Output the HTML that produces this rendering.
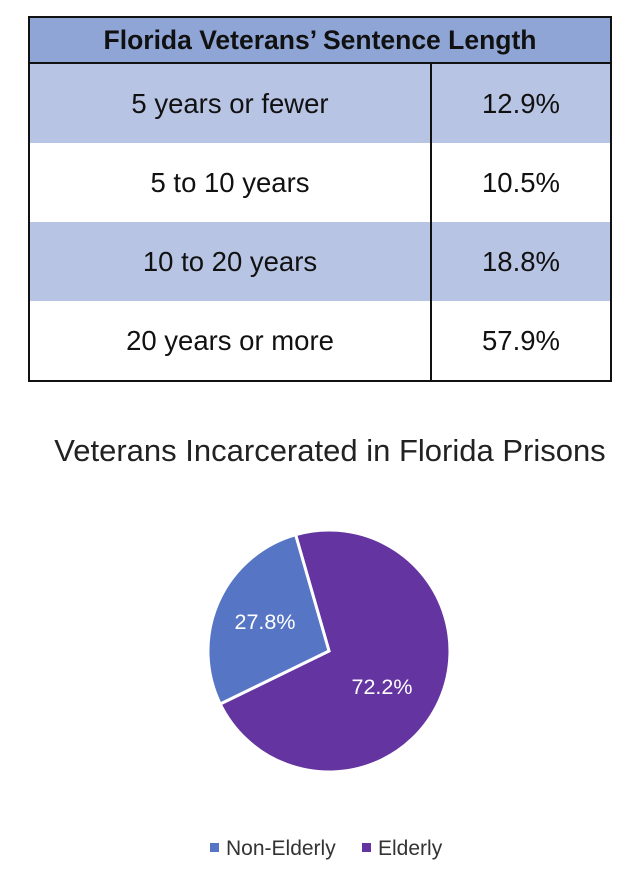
<!DOCTYPE html>
<html><head><meta charset="utf-8"><style>
body{margin:0;width:640px;height:878px;background:#fff;font-family:"Liberation Sans",sans-serif;position:relative;overflow:hidden}
table{position:absolute;left:28px;top:16px;width:584px;border-collapse:collapse;border:2px solid #111}
td{text-align:center;font-size:27.5px;color:#111;padding:0}
.h{background:#8fa5d6;font-weight:bold;height:44px;font-size:26.5px;border-bottom:2px solid #111}
.b{background:#b8c4e4}
.r td{height:79px}
.c1{width:400px;border-right:2px solid #111}
.t{position:absolute;left:0;width:660px;top:433px;text-align:center;font-size:31px;color:#222}
.lg{position:absolute;top:837px;font-size:21px;color:#333}
.sq{display:inline-block;width:9px;height:9px;margin-right:7px;vertical-align:3px}
</style></head><body>
<table>
<tr><td colspan="2" class="h">Florida Veterans’ Sentence Length</td></tr>
<tr class="r b"><td class="c1">5 years or fewer</td><td>12.9%</td></tr>
<tr class="r"><td class="c1">5 to 10 years</td><td>10.5%</td></tr>
<tr class="r b"><td class="c1">10 to 20 years</td><td>18.8%</td></tr>
<tr class="r"><td class="c1">20 years or more</td><td>57.9%</td></tr>
</table>
<div class="t">Veterans Incarcerated in Florida Prisons</div>
<svg width="640" height="878" style="position:absolute;left:0;top:0">
<path d="M329,651 L295.6,534.7 A121,121 0 1 1 220.2,704 Z" fill="#6434a0" stroke="#fff" stroke-width="3"/>
<path d="M329,651 L220.2,704 A121,121 0 0 1 295.6,534.7 Z" fill="#5675c4" stroke="#fff" stroke-width="3"/>
<text x="265" y="629" font-size="21.5" fill="#fff" text-anchor="middle" font-family="Liberation Sans">27.8%</text>
<text x="382" y="694" font-size="21.5" fill="#fff" text-anchor="middle" font-family="Liberation Sans">72.2%</text>
</svg>
<div class="lg" style="left:210px"><span class="sq" style="background:#5675c4"></span>Non-Elderly</div>
<div class="lg" style="left:362px"><span class="sq" style="background:#6434a0"></span>Elderly</div>
</body></html>
